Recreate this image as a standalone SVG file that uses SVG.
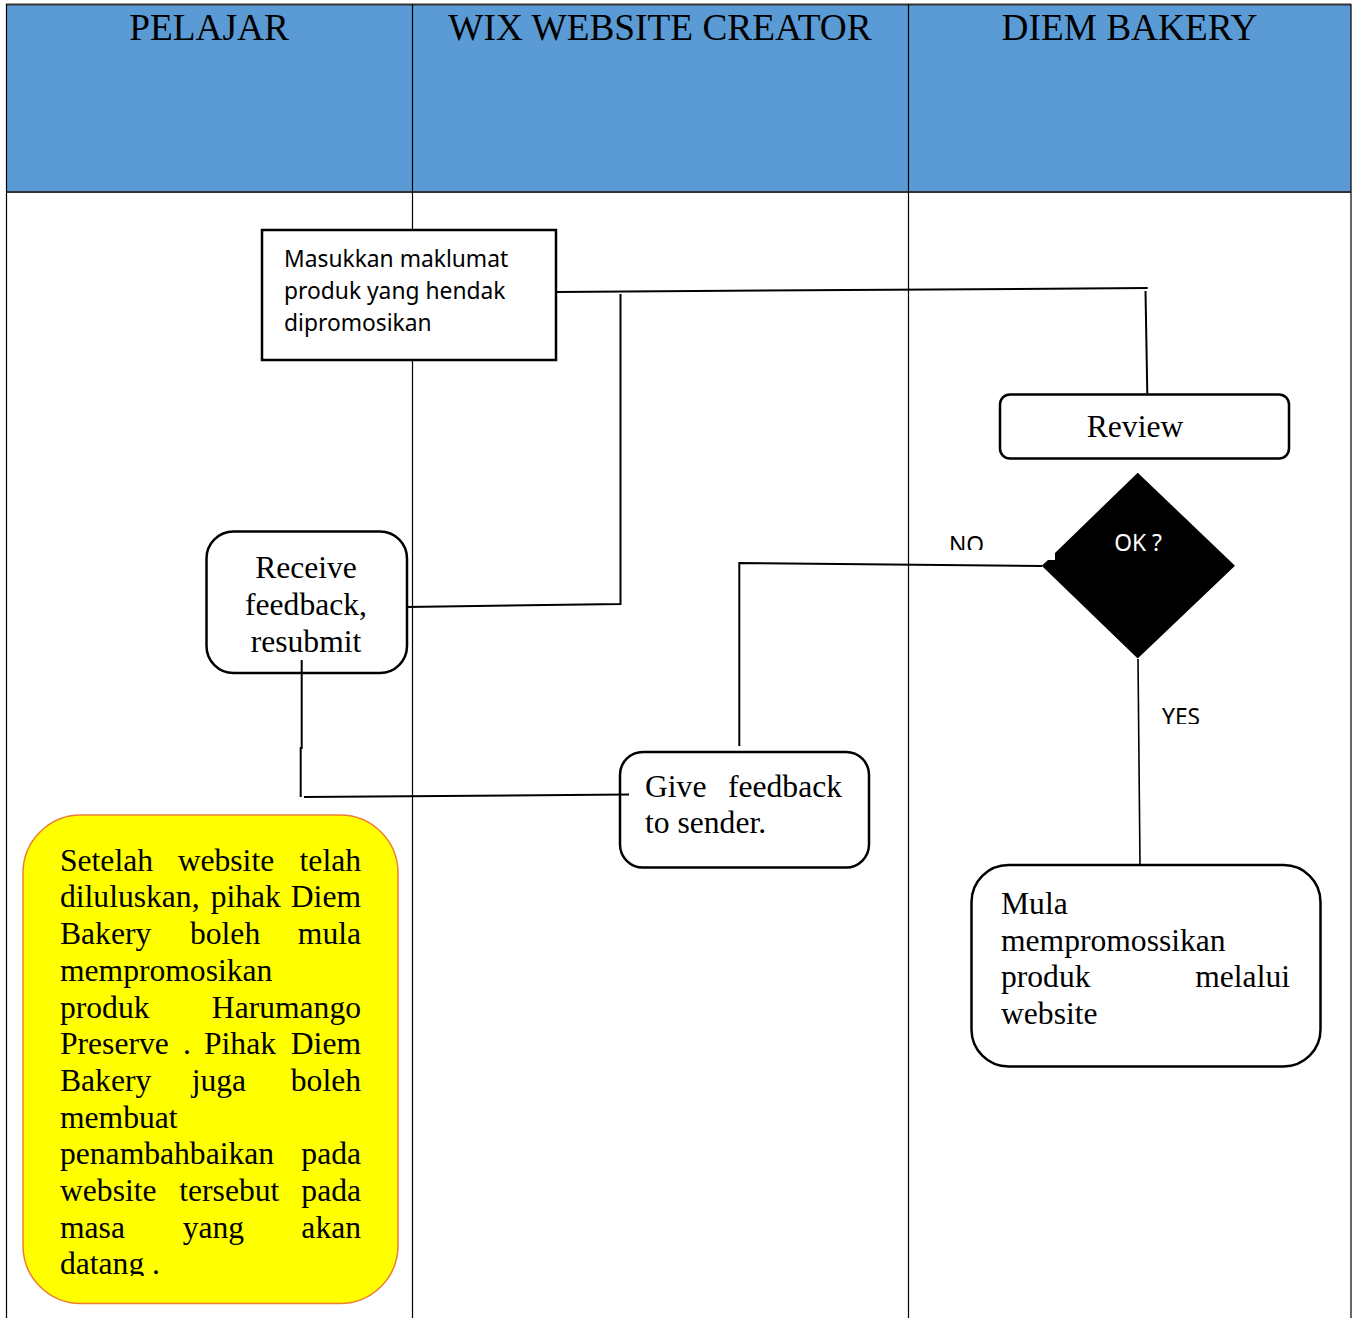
<svg xmlns="http://www.w3.org/2000/svg" width="1358" height="1318" viewBox="0 0 1358 1318">
<style>
.hdr{font-family:"Liberation Serif","Times New Roman",serif;font-size:37.3px;fill:#000;text-anchor:middle}
.ser{font-family:"Liberation Serif","Times New Roman",serif;font-size:31.6px;fill:#000}
.sans{font-family:"Noto Sans","Open Sans",sans-serif;font-size:22.8px;fill:#000}
.box{fill:#fff;stroke:#000;stroke-width:2.5}
.conn{fill:none;stroke:#000;stroke-width:2}
.grid{stroke:#000;stroke-width:1.2;fill:none}
.hline{stroke:#333;stroke-width:1.8;fill:none}
</style>
<defs>
<clipPath id="clipNo"><rect x="940" y="520" width="60" height="30"/></clipPath>
<clipPath id="clipYes"><rect x="1150" y="695" width="70" height="29"/></clipPath>
<clipPath id="clipYel"><rect x="20" y="810" width="390" height="466"/></clipPath>
</defs>
<rect width="1358" height="1318" fill="#fff"/>
<g id="table">
<rect x="6" y="4.5" width="1345" height="187.5" fill="#5B9BD5"/>
<line class="hline" x1="6" y1="4.5" x2="1351" y2="4.5"/>
<line class="hline" x1="6" y1="192" x2="1351" y2="192"/>
<line class="grid" x1="6.5" y1="4" x2="6.5" y2="1318"/>
<line class="grid" x1="412.5" y1="4" x2="412.5" y2="1318"/>
<line class="grid" x1="908.5" y1="4" x2="908.5" y2="1318"/>
<line class="grid" x1="1351" y1="4" x2="1351" y2="1318"/>
<text class="hdr" x="209" y="40">PELAJAR</text>
<text class="hdr" x="660" y="40">WIX WEBSITE CREATOR</text>
<text class="hdr" x="1129.5" y="40">DIEM BAKERY</text>
</g>
<g id="n-masukkan">
<rect class="box" x="262" y="230" width="294" height="130"/>
<text class="sans" x="284" y="267">Masukkan maklumat</text>
<text class="sans" x="284" y="299">produk yang hendak</text>
<text class="sans" x="284" y="331">dipromosikan</text>
</g>
<g id="n-review">
<rect class="box" x="1000" y="394.5" width="289" height="64" rx="10"/>
<text class="ser" x="1135" y="437" text-anchor="middle">Review</text>
</g>
<g id="n-ok">
<polygon points="1137.7,472.7 1235,565.7 1137.7,658.5 1041.7,565.7 1048,560 1055,560 1055,553" fill="#000"/>
<text class="sans" x="1138" y="551" text-anchor="middle" style="fill:#fff">OK ?</text>
</g>
<g id="lbl-no" clip-path="url(#clipNo)">
<text class="sans" x="949" y="552.5">NO</text>
</g>
<g id="lbl-yes" clip-path="url(#clipYes)">
<text class="sans" x="1162" y="724.7">YES</text>
</g>
<g id="n-receive">
<rect class="box" x="206.5" y="531.5" width="200.5" height="141.5" rx="27"/>
<text class="ser" x="306" y="578" text-anchor="middle">Receive</text>
<text class="ser" x="306" y="615" text-anchor="middle">feedback,</text>
<text class="ser" x="306" y="651.5" text-anchor="middle">resubmit</text>
</g>
<g id="n-give">
<rect class="box" x="620" y="752" width="249" height="115.5" rx="23"/>
<text class="ser" x="645" y="797">Give</text>
<text class="ser" x="842" y="797" text-anchor="end">feedback</text>
<text class="ser" x="645" y="832.5">to sender.</text>
</g>
<g id="n-mula">
<rect class="box" x="971.5" y="865" width="349" height="201.5" rx="37"/>
<text class="ser" x="1001" y="914">Mula</text>
<text class="ser" x="1001" y="950.5">mempromossikan</text>
<text class="ser" x="1001" y="987">produk</text>
<text class="ser" x="1290" y="987" text-anchor="end">melalui</text>
<text class="ser" x="1001" y="1023.7">website</text>
</g>
<g id="n-note">
<rect x="23" y="815" width="375" height="488.5" rx="58" fill="#FFFF00" stroke="#ED7D31" stroke-width="1.5"/>
<g clip-path="url(#clipYel)">
<text class="ser" y="870.7"><tspan x="60">Setelah</tspan><tspan x="177.7">website</tspan></text>
<text class="ser" x="361" y="870.7" text-anchor="end">telah</text>
<text class="ser" y="907.4"><tspan x="60">diluluskan,</tspan><tspan x="210.7">pihak</tspan></text>
<text class="ser" x="361" y="907.4" text-anchor="end">Diem</text>
<text class="ser" y="944.1"><tspan x="60">Bakery</tspan><tspan x="190">boleh</tspan></text>
<text class="ser" x="361" y="944.1" text-anchor="end">mula</text>
<text class="ser" x="60" y="980.8">mempromosikan</text>
<text class="ser" x="60" y="1017.5">produk</text>
<text class="ser" x="361" y="1017.5" text-anchor="end">Harumango</text>
<text class="ser" y="1054.2"><tspan x="60">Preserve</tspan><tspan x="183">.</tspan><tspan x="204">Pihak</tspan></text>
<text class="ser" x="361" y="1054.2" text-anchor="end">Diem</text>
<text class="ser" y="1090.9"><tspan x="60">Bakery</tspan><tspan x="191.7">juga</tspan></text>
<text class="ser" x="361" y="1090.9" text-anchor="end">boleh</text>
<text class="ser" x="60" y="1127.6">membuat</text>
<text class="ser" x="60" y="1164.3">penambahbaikan</text>
<text class="ser" x="361" y="1164.3" text-anchor="end">pada</text>
<text class="ser" y="1201"><tspan x="60">website</tspan><tspan x="179.3">tersebut</tspan></text>
<text class="ser" x="361" y="1201" text-anchor="end">pada</text>
<text class="ser" y="1237.7"><tspan x="60">masa</tspan><tspan x="182.7">yang</tspan></text>
<text class="ser" x="361" y="1237.7" text-anchor="end">akan</text>
<text class="ser" x="60" y="1274.4">datang .</text>
</g>
</g>
<g id="connectors">
<polyline class="conn" points="556,292 1147.7,288"/>
<polyline class="conn" points="1145.5,291 1147.3,393.5"/>
<polyline class="conn" points="620.5,294 620.5,604 407,607"/>
<polyline class="conn" points="301.7,660 301.7,748 300.7,748 300.7,797"/>
<polyline class="conn" points="304,797 629,794.5"/>
<polyline class="conn" points="739.3,746 739.3,563 1042,566"/>
<polyline class="conn" points="1138,659 1140,865" style="stroke-width:1.6"/>
</g>
</svg>
